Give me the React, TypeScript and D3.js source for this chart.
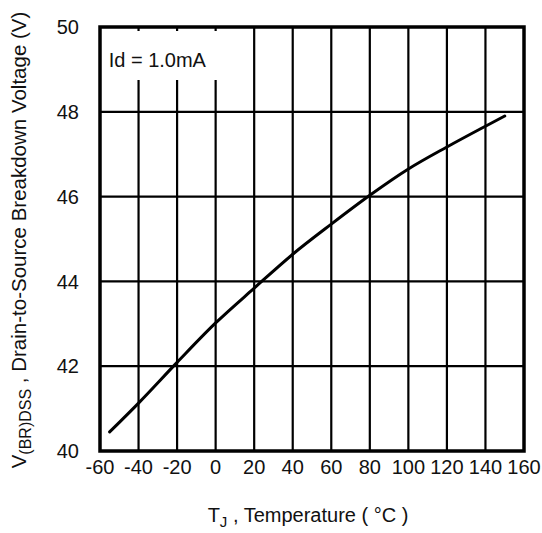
import React from 'react'
import * as d3 from 'd3'

const tempTicks = [-60, -40, -20, 0, 20, 40, 60, 80, 100, 120, 140, 160]
const voltTicks = [40, 42, 44, 46, 48, 50]
const tempC = [-55, -40, -20, 0, 20, 40, 60, 80, 100, 120, 140, 150]
const bvdss = [40.45, 41.13, 42.09, 43.02, 43.84, 44.64, 45.35, 46.03, 46.65, 47.17, 47.66, 47.9]
const legendGapTemps = [-40, -20, 0] // grid lines cut short behind the Id label

const width = 542
const height = 533
const margin = { top: 27, right: 18, bottom: 82, left: 100 }
const font = '"Liberation Sans", Arial, sans-serif'
const ink = '#111'

function App() {
  const x = d3.scaleLinear().domain([-60, 160]).range([margin.left, width - margin.right])
  const y = d3.scaleLinear().domain([40, 50]).range([height - margin.bottom, margin.top])

  const line = d3.line<number>()
    .x((_, i) => x(tempC[i]))
    .y(d => y(d))
    .curve(d3.curveMonotoneX)

  const legendBottom = y(48.75)

  return (
    <svg width={width} height={height} style={{ position: 'absolute', left: 0, top: 0 }}>
      <rect width={width} height={height} fill="#fff" />
      {/* horizontal grid */}
      {voltTicks.slice(1, -1).map(v => (
        <line key={v} x1={x(-60)} x2={x(160)} y1={y(v)} y2={y(v)} stroke="#000" strokeWidth={2.2} />
      ))}
      {/* vertical grid */}
      {tempTicks.slice(1, -1).map(t => {
        const gap = legendGapTemps.includes(t)
        return (
          <g key={t}>
            <line x1={x(t)} x2={x(t)} y1={gap ? legendBottom : y(50)} y2={y(40)} stroke="#000" strokeWidth={2.2} />
            {gap && <line x1={x(t)} x2={x(t)} y1={y(50)} y2={y(50) + 4} stroke="#000" strokeWidth={2.2} />}
          </g>
        )
      })}
      <rect x={x(-60)} y={y(50)} width={x(160) - x(-60)} height={y(40) - y(50)}
        fill="none" stroke="#000" strokeWidth={3.5} />
      <path d={line(bvdss) ?? ''} fill="none" stroke="#000" strokeWidth={3} strokeLinecap="round" />

      <text x={x(-55.5)} y={y(49.05)} fontFamily={font} fontSize={20} fill={ink}>Id = 1.0mA</text>

      {/* y ticks */}
      {voltTicks.map(v => (
        <text key={v} x={79} y={y(v)} dy="0.36em" textAnchor="end" fontFamily={font} fontSize={20} fill={ink}>{v}</text>
      ))}
      {/* x ticks */}
      {tempTicks.map(t => (
        <text key={t} x={x(t)} y={474} textAnchor="middle" fontFamily={font} fontSize={20} fill={ink}>{t}</text>
      ))}

      <text x={308} y={522} textAnchor="middle" fontFamily={font} fontSize={20} fill={ink}>
        T<tspan fontSize={15} dy={5}>J</tspan><tspan dy={-5}> , Temperature ( °C )</tspan>
      </text>

      <text transform={`translate(26, ${240}) rotate(-90)`} textAnchor="middle" fontFamily={font} fontSize={20.5} fill={ink}>
        V<tspan fontSize={16} dy={5}>(BR)DSS</tspan><tspan dy={-5}> , Drain-to-Source Breakdown Voltage (V)</tspan>
      </text>
    </svg>
  )
}

export default App
